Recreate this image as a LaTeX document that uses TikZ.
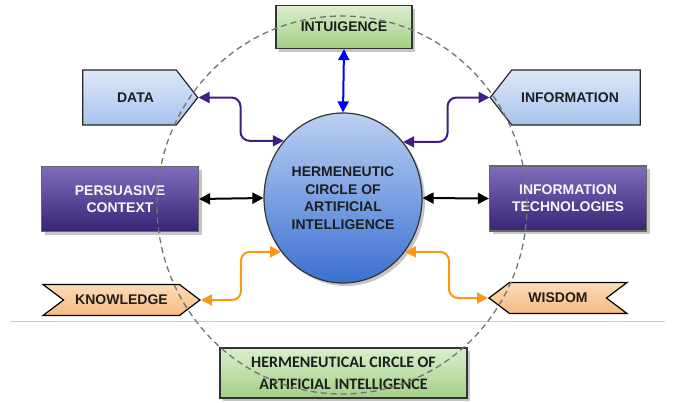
\documentclass[tikz,border=0pt]{standalone}
\usepackage{fontspec}
\setmainfont{Liberation Sans}
\newfontfamily\calfont{Carlito}
\usepackage{tikz}
\usetikzlibrary{arrows.meta,shapes,shapes.symbols,positioning,shadows,calc}
\definecolor{hcpaleblue}{RGB}{221,232,249}
\definecolor{hcsoftblue}{RGB}{168,195,238}
\definecolor{hclightpurple}{RGB}{128,108,188}
\definecolor{hcdarkpurple}{RGB}{56,36,116}
\definecolor{hclightgreen}{RGB}{218,238,204}
\definecolor{hcgreen}{RGB}{164,207,134}
\definecolor{hclightorange}{RGB}{252,220,184}
\definecolor{hcorange}{RGB}{247,186,130}
\definecolor{hccirtop}{RGB}{188,208,242}
\definecolor{hccirbot}{RGB}{58,112,210}
\definecolor{hcarrowpurple}{RGB}{62,30,132}
\definecolor{hcarroworange}{RGB}{255,150,20}
\definecolor{hctext}{RGB}{30,30,30}
\tikzstyle{hcshadow} = [drop shadow={shadow xshift=3pt, shadow yshift=-3pt, fill=black!45}]
\tikzstyle{bluesignal} = [signal, draw=black!85, line width=1.2pt, top color=hcpaleblue, bottom color=hcsoftblue, minimum height=55pt, signal pointer angle=104, text=hctext, font=\fontsize{14}{17}\selectfont\bfseries]
\tikzstyle{purplebox} = [rectangle, draw=black!60, line width=1.2pt, top color=hclightpurple, bottom color=hcdarkpurple, minimum width=157pt, minimum height=65pt, align=center, text=white!94!hclightpurple, font=\fontsize{14}{17}\selectfont\bfseries, hcshadow]
\tikzstyle{orangesignal} = [signal, draw=black, line width=1.2pt, top color=hclightorange, bottom color=hcorange, minimum height=31pt, signal pointer angle=74, text=hctext, font=\fontsize{14}{17}\selectfont\bfseries]
\tikzstyle{greenbox} = [rectangle, draw=black!80, line width=1.2pt, top color=hclightgreen, bottom color=hcgreen, align=center, text=hctext, hcshadow]
\tikzstyle{arrow} = [line width=2pt, {Triangle[length=11pt,width=11pt]}-{Triangle[length=11pt,width=11pt]}, rounded corners=9pt]

\begin{document}
\begin{tikzpicture}[x=1pt, y=-1pt]
    \useasboundingbox (0,0) rectangle (675,402);

    % Separator line
    \draw[black!20, line width=0.8pt] (10,321) -- (665,321);

    % Hermeneutic circle
    \node[ellipse, draw=black!80, line width=1.2pt, top color=hccirtop, bottom color=hccirbot, minimum width=158pt, minimum height=170pt, align=center, text=hctext, font=\fontsize{14}{17.5}\selectfont\bfseries, hcshadow] (circ) at (343,198) {HERMENEUTIC\\CIRCLE OF\\ARTIFICIAL\\INTELLIGENCE};

    % Intuigence
    \node[greenbox, minimum width=136pt, minimum height=43pt, font=\fontsize{14}{17}\selectfont\bfseries] (intu) at (344,27) {INTUIGENCE};

    % Data and information
    \node[bluesignal, signal to=east, minimum width=115pt] (data) at (129.5,97.5) {\hspace*{12pt}DATA};
    \node[bluesignal, signal to=west, minimum width=150pt] (info) at (576,97.5) {INFORMATION\hspace*{12pt}};

    % Persuasive context and technologies
    \node[purplebox] (pers) at (120,199) {PERSUASIVE\\CONTEXT};
    \node[purplebox] (itech) at (568,198.5) {INFORMATION\\TECHNOLOGIES};

    % Knowledge and wisdom
    \node[orangesignal, signal to=east, signal from=west, minimum width=157pt] (know) at (121.5,300) {KNOWLEDGE};
    \node[orangesignal, signal to=west, signal from=east, minimum width=138pt] (wis) at (558,298) {WISDOM};

    % Title
    \node[greenbox, minimum width=247pt, minimum height=50pt, font=\calfont\fontsize{16}{22}\selectfont\bfseries] (title) at (343.5,373) {HERMENEUTICAL CIRCLE OF\\ARTIFICIAL INTELLIGENCE};

    % Dashed circle
    \draw[black!55, line width=1.3pt, dash pattern=on 6pt off 4pt] (342,205) ellipse [x radius=185pt, y radius=189pt];

    % Arrows
    \draw[arrow, color=blue] (intu.south) -- (circ.north);
    \draw[arrow, color=hcarrowpurple] (data.east) -- ++(42,0) |- (circ.136);
    \draw[arrow, color=hcarrowpurple] (info.west) -- ++(-42,0) |- (circ.43);
    \draw[arrow, color=black] (pers.east) -- (circ.west);
    \draw[arrow, color=black] (itech.west) -- (circ.east);
    \draw[arrow, color=hcarroworange] (know.east) -- ++(40,0) |- (circ.221);
    \draw[arrow, color=hcarroworange] (wis.west) -- ++(-39,0) |- (circ.319);
\end{tikzpicture}
\end{document}
